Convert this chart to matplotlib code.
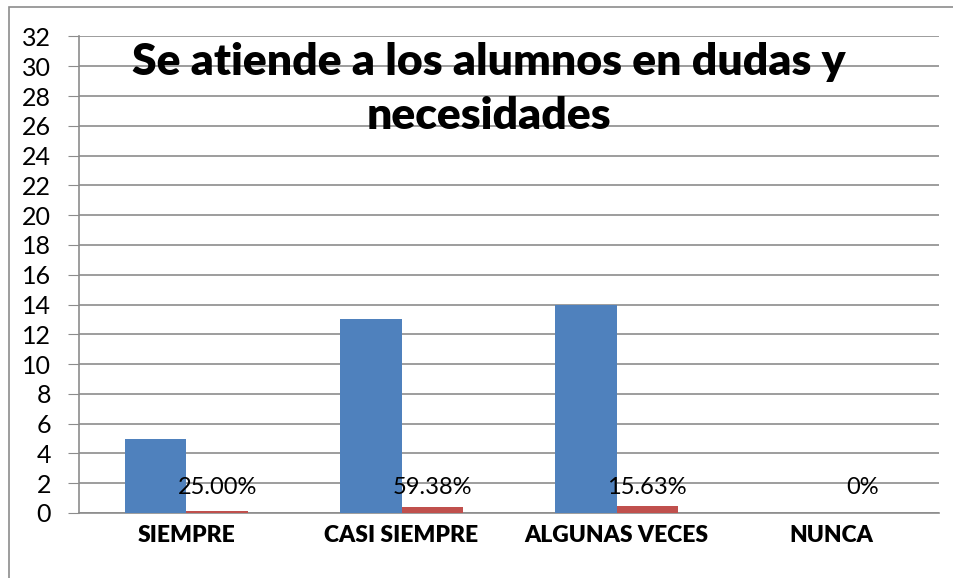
# %%
import matplotlib
matplotlib.use('Agg')
import matplotlib.pyplot as plt
from matplotlib.patches import Rectangle

# %% データ
categorias = ['SIEMPRE', 'CASI SIEMPRE', 'ALGUNAS VECES', 'NUNCA']
alumnos = [5, 13, 14, 0]
porcentaje = [0.1563, 0.4063, 0.4375, 0]
etiquetas = ['25.00%', '59.38%', '15.63%', '0%']
yticks = list(range(0, 33, 2))
titulo = 'Se atiende a los alumnos en dudas y\nnecesidades'

# %% 描画
plt.rcParams['font.family'] = ['Lato', 'DejaVu Sans']

fig = plt.figure(figsize=(9.54, 5.78), dpi=100)
ax = fig.add_axes([0.0828, 0.1125, 0.9015, 0.8244])

# 外枠
fig.patches.append(Rectangle((9 / 954, -0.1), 1.2, 1 - 7 / 578 + 0.1,
                             transform=fig.transFigure, fill=False,
                             edgecolor='#8c8c8c', linewidth=1.2))

w = 0.285
x = range(len(categorias))
ax.bar([i - w / 2 for i in x], alumnos, width=w, color='#4F81BD', zorder=3)
ax.bar([i + w / 2 for i in x], porcentaje, width=w, color='#C0504D', zorder=3)

for i, t in zip(x, etiquetas):
    ax.text(i + w / 2, 1.68, t, ha='center', va='center', fontsize=17, zorder=4)

ax.set_xlim(-0.5, len(categorias) - 0.5)
ax.set_ylim(0, 32)
ax.set_yticks(yticks)
ax.yaxis.grid(True, color='#8c8c8c', linewidth=1.2, zorder=0)
ax.set_xticks(list(x))
ax.set_xticklabels(categorias, fontsize=16.5, fontweight='heavy')
ax.tick_params(axis='x', length=0, pad=9)
ax.tick_params(axis='y', length=8, color='#8c8c8c', labelsize=18, pad=12)

for s in ['top', 'right']:
    ax.spines[s].set_visible(False)
for s in ['left', 'bottom']:
    ax.spines[s].set_color('#8c8c8c')
    ax.spines[s].set_linewidth(1.2)

# タイトル
fig.text(489 / 954, 1 - 89 / 578, titulo, ha='center', va='center',
         fontsize=32, fontweight='heavy', linespacing=1.45)

fig.savefig('out.png', dpi=100)
